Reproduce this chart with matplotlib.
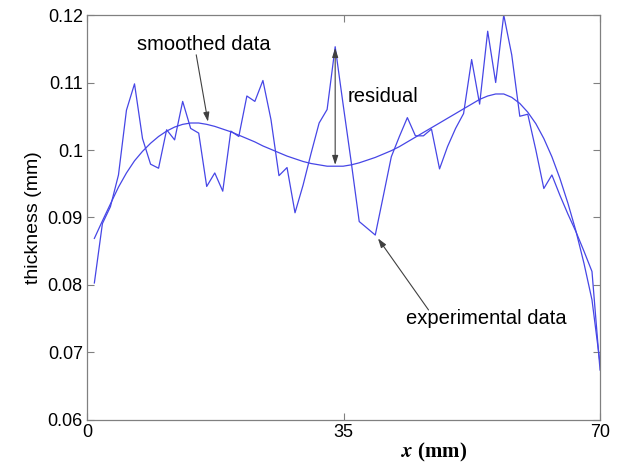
import matplotlib
matplotlib.use("Agg")
import matplotlib.pyplot as plt

plt.rcParams["font.family"] = ["Liberation Sans", "DejaVu Sans"]
plt.rcParams["mathtext.fontset"] = "stix"

# positions along the strip (mm), one per measurement
x_mm = [1.00, 2.10, 3.19, 4.29, 5.38, 6.48, 7.57, 8.67, 9.76, 10.86,
        11.95, 13.05, 14.14, 15.24, 16.33, 17.43, 18.52, 19.62, 20.71, 21.81,
        22.90, 24.00, 25.10, 26.19, 27.29, 28.38, 29.48, 30.57, 31.67, 32.76,
        33.86, 34.95, 36.05, 37.14, 38.24, 39.33, 40.43, 41.52, 42.62, 43.71,
        44.81, 45.90, 47.00, 48.10, 49.19, 50.29, 51.38, 52.48, 53.57, 54.67,
        55.76, 56.86, 57.95, 59.05, 60.14, 61.24, 62.33, 63.43, 64.52, 65.62,
        66.71, 67.81, 68.90, 70.00]

# measured thickness (mm)
experimental = [0.0803, 0.0891, 0.0916, 0.0963, 0.1059, 0.1098, 0.1017, 0.0979, 0.0973, 0.1030,
                0.1015, 0.1072, 0.1032, 0.1025, 0.0946, 0.0966, 0.0939, 0.1028, 0.1020, 0.1080,
                0.1072, 0.1103, 0.1045, 0.0962, 0.0974, 0.0907, 0.0948, 0.0995, 0.1040, 0.1060,
                0.1153, 0.1067, 0.0982, 0.0894, 0.0884, 0.0874, 0.0932, 0.0990, 0.1020, 0.1048,
                0.1021, 0.1021, 0.1031, 0.0972, 0.1005, 0.1032, 0.1054, 0.1134, 0.1068, 0.1176,
                0.1100, 0.1200, 0.1141, 0.1050, 0.1053, 0.1000, 0.0943, 0.0963, 0.0933, 0.0905,
                0.0879, 0.0850, 0.0820, 0.0674]

# smoothed thickness (mm)
smoothed = [0.0869, 0.0895, 0.0920, 0.0945, 0.0966, 0.0984, 0.0998, 0.1010, 0.1020, 0.1028,
            0.1034, 0.1038, 0.1040, 0.1040, 0.1038, 0.1035, 0.1031, 0.1027, 0.1022, 0.1017,
            0.1012, 0.1006, 0.1001, 0.0996, 0.0991, 0.0987, 0.0983, 0.0980, 0.0978, 0.0976,
            0.0976, 0.0976, 0.0978, 0.0981, 0.0985, 0.0989, 0.0994, 0.0999, 0.1005, 0.1012,
            0.1019, 0.1026, 0.1033, 0.1040, 0.1047, 0.1054, 0.1061, 0.1068, 0.1075, 0.1080,
            0.1083, 0.1083, 0.1078, 0.1069, 0.1056, 0.1039, 0.1017, 0.0990, 0.0958, 0.0921,
            0.0880, 0.0832, 0.0778, 0.0684]

x_ticks = [0, 35, 70]
y_ticks = [0.06, 0.07, 0.08, 0.09, 0.1, 0.11, 0.12]
y_tick_labels = ["0.06", "0.07", "0.08", "0.09", "0.1", "0.11", "0.12"]

LINE = "#4646e6"
ARROW = dict(arrowstyle="-|>,head_length=0.55,head_width=0.18", color="#404040",
             lw=0.8, shrinkA=0, shrinkB=0)

fig = plt.figure(figsize=(6.27, 4.69), dpi=100)
ax = fig.add_axes([0.1388, 0.1045, 0.8182, 0.8635])

ax.plot(x_mm, experimental, color=LINE, lw=0.9)
ax.plot(x_mm, smoothed, color=LINE, lw=0.9)

ax.set_xlim(0, 70)
ax.set_ylim(0.06, 0.12)
ax.set_xticks(x_ticks)
ax.set_yticks(y_ticks)
ax.set_yticklabels(y_tick_labels)
ax.tick_params(direction="in", top=True, right=True, length=5, width=0.8,
               color="#808080", labelsize=13, pad=3)
for sp in ax.spines.values():
    sp.set_color("#808080")
    sp.set_linewidth(0.9)

ax.set_ylabel("thickness (mm)", fontsize=14)
ax.set_xlabel(r"$\boldsymbol{x}$ (mm)", fontsize=15, fontfamily="Liberation Serif",
              fontweight="bold")
ax.xaxis.set_label_coords(0.676, -0.052)

# annotations
ax.text(16.0, 0.1156, "smoothed data", fontsize=14.5, ha="center", va="center")
ax.annotate("", xy=(16.5, 0.1042), xytext=(14.9, 0.1141), arrowprops=ARROW)

ax.text(35.5, 0.1079, "residual", fontsize=14.5, ha="left", va="center")
ax.annotate("", xy=(33.86, 0.1151), xytext=(33.86, 0.0978),
            arrowprops=dict(ARROW, arrowstyle="<|-|>,head_length=0.55,head_width=0.18"))

ax.text(43.5, 0.0750, "experimental data", fontsize=14.5, ha="left", va="center")
ax.annotate("", xy=(39.7, 0.0869), xytext=(46.6, 0.0763), arrowprops=ARROW)

fig.savefig("out.png", dpi=100)
